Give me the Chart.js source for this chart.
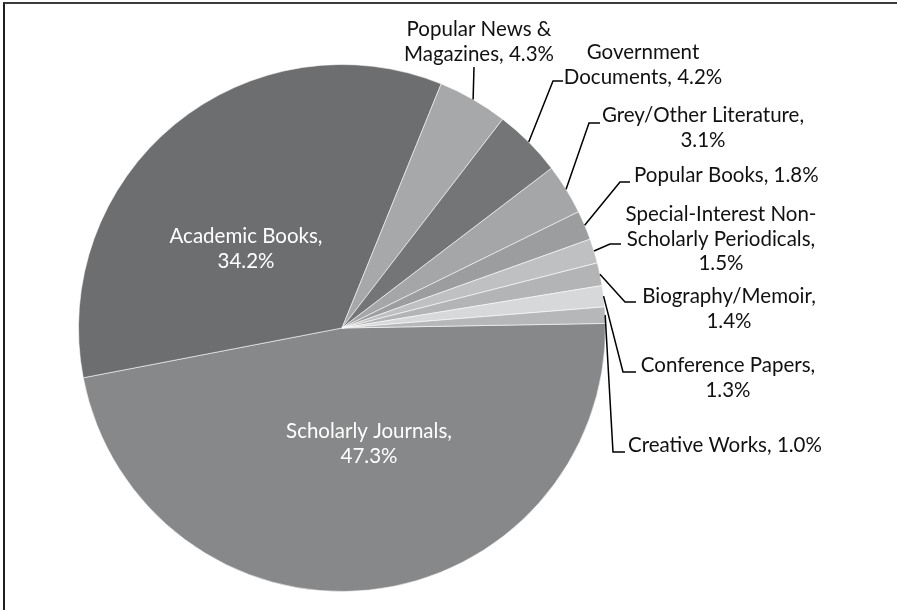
<!DOCTYPE html>
<html>
<head>
<meta charset="utf-8">
<script src="https://cdn.jsdelivr.net/npm/chart.js@4.4.1/dist/chart.umd.min.js"></script>
<style>
    html, body { margin: 0; padding: 0; background: #fff; overflow: hidden; }
    #wrap { position: absolute; left: 0; top: 0; width: 897px; height: 610px; }
    #frame {
        position: absolute; left: 3px; top: 2px; right: -20px; bottom: -20px;
        border-top: 2px solid #3c3c3c; border-left: 2px solid #202020;
        pointer-events: none;
    }
</style>
</head>
<body>
<div id="wrap"><canvas id="pie-chart"></canvas></div>
<div id="frame"></div>
<script>
// Source types, in drawing order (clockwise from the Scholarly Journals start)
const categories = [
    'Scholarly Journals', 'Academic Books', 'Popular News & Magazines',
    'Government Documents', 'Grey/Other Literature', 'Popular Books',
    'Special-Interest Non-Scholarly Periodicals', 'Biography/Memoir',
    'Conference Papers', 'Creative Works'
];
const shares = [47.3, 34.2, 4.3, 4.2, 3.1, 1.8, 1.5, 1.4, 1.3, 1.0];

// Wrapped label text, as printed on the chart
const labelLines = [
    ['Scholarly Journals,', '47.3%'],
    ['Academic Books,', '34.2%'],
    ['Popular News &', 'Magazines, 4.3%'],
    ['Government', 'Documents, 4.2%'],
    ['Grey/Other Literature,', '3.1%'],
    ['Popular Books, 1.8%'],
    ['Special-Interest Non-', 'Scholarly Periodicals,', '1.5%'],
    ['Biography/Memoir,', '1.4%'],
    ['Conference Papers,', '1.3%'],
    ['Creative Works, 1.0%']
];

const sliceColors = [
    '#87888a', '#6d6e70', '#a7a8aa', '#747577', '#a5a6a8',
    '#9c9d9f', '#bfc0c1', '#b3b4b6', '#d7d8d9', '#b6b7b9'
];

// Label layout: x = centre (or left edge) of text, y = first baseline, elbow/end for leader lines
const labelLayout = [
    { x: 369, y: 438, color: '#fff' },
    { x: 246, y: 243, color: '#fff' },
    { x: 479, y: 36, end: [474, 67] },
    { x: 643, y: 59, elbow: [553, 81], end: [563, 81] },
    { x: 703, y: 122, elbow: [589, 123], end: [600, 123] },
    { x: 634, y: 182, align: 'left', elbow: [620, 182], end: [630, 182] },
    { x: 721, y: 221, elbow: [610, 244], end: [621, 244] },
    { x: 729, y: 303, elbow: [625, 302], end: [636, 302] },
    { x: 728, y: 372, elbow: [623, 372], end: [636, 372] },
    { x: 628, y: 452, align: 'left', elbow: [613, 452], end: [625, 452] }
];

const FONT = '20.5px Lato, "Open Sans", sans-serif';
const LINE_H = 24.5;

const pieLabels = {
    id: 'pieLabels',
    afterDatasetsDraw(chart) {
        const ctx = chart.ctx;
        const arcs = chart.getDatasetMeta(0).data;
        ctx.save();
        ctx.font = FONT;
        ctx.textBaseline = 'alphabetic';

        arcs.forEach((arc, i) => {
            const lay = labelLayout[i];
            // leader line from the slice's outer edge
            if (lay.end) {
                const { x, y, startAngle, endAngle, outerRadius } = arc.getProps(['x', 'y', 'startAngle', 'endAngle', 'outerRadius'], true);
                const mid = (startAngle + endAngle) / 2;
                const ax = x + Math.cos(mid) * outerRadius;
                const ay = y + Math.sin(mid) * outerRadius;
                ctx.beginPath();
                ctx.strokeStyle = '#000';
                ctx.lineWidth = 1.5;
                ctx.moveTo(ax, ay);
                if (lay.elbow) ctx.lineTo(lay.elbow[0], lay.elbow[1]);
                ctx.lineTo(lay.end[0], lay.end[1]);
                ctx.stroke();
            }
            ctx.fillStyle = lay.color || '#111';
            ctx.textAlign = lay.align || 'center';
            labelLines[i].forEach((line, j) => {
                ctx.fillText(line, lay.x, lay.y + j * LINE_H);
            });
        });
        ctx.restore();
    }
};

function initChart() {
    const ctx = document.getElementById('pie-chart').getContext('2d');
    new Chart(ctx, {
        type: 'pie',
        data: {
            labels: categories,
            datasets: [{
                data: shares,
                backgroundColor: sliceColors,
                borderColor: 'rgba(255, 255, 255, 0.55)',
                borderWidth: 1,
                hoverOffset: 0
            }]
        },
        options: {
            responsive: true,
            maintainAspectRatio: false,
            animation: false,
            rotation: 89,
            layout: { padding: { left: 78, top: 64, right: 291, bottom: 18 } },
            plugins: {
                legend: { display: false },
                tooltip: { enabled: false }
            }
        },
        plugins: [pieLabels]
    });
}

document.addEventListener('DOMContentLoaded', initChart);
</script>
</body>
</html>
